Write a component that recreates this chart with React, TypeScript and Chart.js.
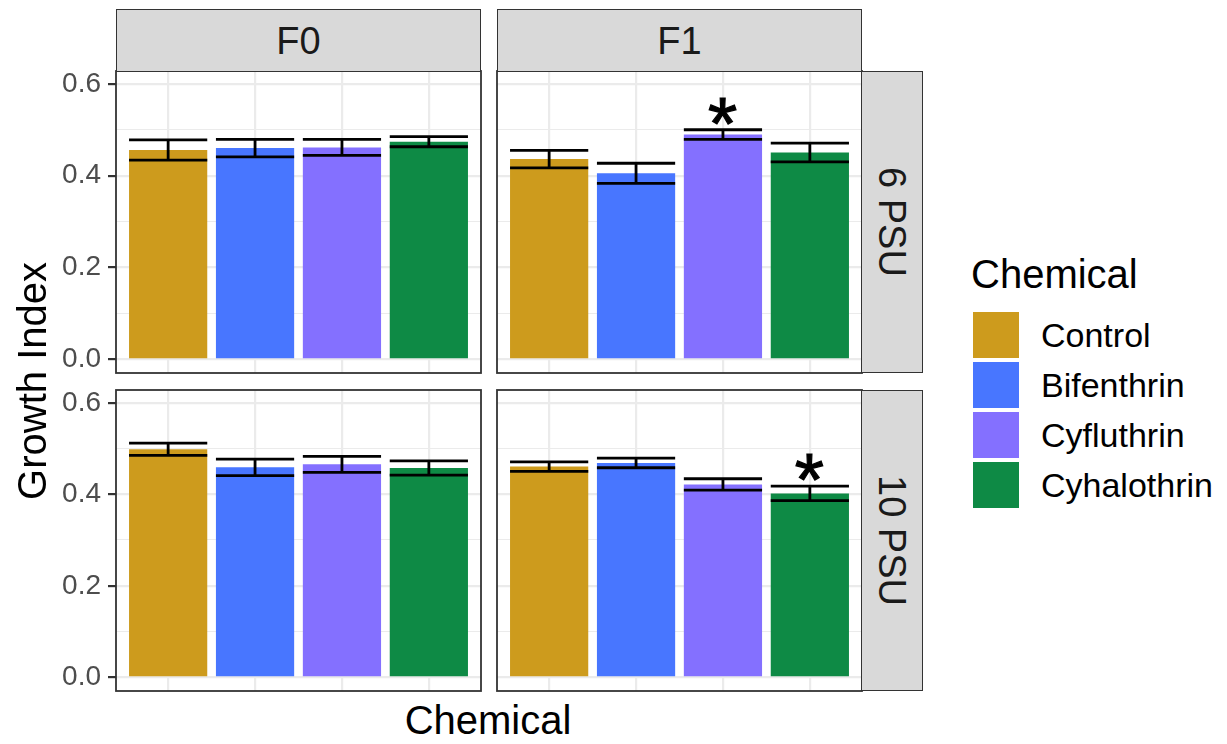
import React, { useEffect, useRef } from 'react';
import { Chart, registerables } from 'chart.js';

Chart.register(...registerables);

// ---------- data ----------
const chemicals = ['Control', 'Bifenthrin', 'Cyfluthrin', 'Cyhalothrin'];
const chemicalPositions = [1, 2, 3, 4];
const chemicalColors = ['#CD9B1D', '#4876FF', '#8470FF', '#0E8A45'];
const generations = ['F0', 'F1'];
const salinities = ['6 PSU', '10 PSU'];
const yTickValues = [0, 0.1, 0.2, 0.3, 0.4, 0.5, 0.6];
const yMajorTicks = [0, 0.2, 0.4, 0.6];

const meanF0_6 = [0.456, 0.460, 0.4615, 0.474];
const seF0_6 = [0.022, 0.019, 0.0175, 0.011];
const sigF0_6 = [false, false, false, false];

const meanF1_6 = [0.436, 0.405, 0.4895, 0.4505];
const seF1_6 = [0.019, 0.022, 0.0105, 0.0205];
const sigF1_6 = [false, false, true, false];

const meanF0_10 = [0.4985, 0.459, 0.4655, 0.4575];
const seF0_10 = [0.0135, 0.018, 0.0175, 0.0155];
const sigF0_10 = [false, false, false, false];

const meanF1_10 = [0.4605, 0.4685, 0.4215, 0.402];
const seF1_10 = [0.0105, 0.0105, 0.0125, 0.016];
const sigF1_10 = [false, false, false, true];

const Y_MIN = -0.03;
const Y_MAX = 0.628;
const STAR_OFFSET = 0.040;

// ---------- style ----------
const FONT = '"Liberation Sans", Arial, Helvetica, sans-serif';
const GRID = '#EBEBEB';
const DARK = '#333333';

type PanelProps = {
  means: number[];
  se: number[];
  sig: boolean[];
  x0: number;
  x1: number;
  y0: number;
  y1: number;
  showY: boolean;
};

const isMajor = (v: number) => yMajorTicks.some((t) => Math.abs(t - v) < 1e-9);

function Panel({ means, se, sig, x0, x1, y0, y1, showY }: PanelProps) {
  const ref = useRef<HTMLCanvasElement>(null);
  const M = 4;
  const cLeft = showY ? 0 : x0 - M;
  const cTop = y0 - M;
  const cW = x1 + M - cLeft;
  const cH = y1 + M - cTop;

  useEffect(() => {
    const canvas = ref.current;
    if (!canvas) return;

    const errorPlugin = {
      id: 'errorbars',
      afterDatasetsDraw(chart: any) {
        const ctx = chart.ctx;
        const xs = chart.scales.x;
        const ys = chart.scales.y;
        const meta = chart.getDatasetMeta(0);
        ctx.save();
        ctx.strokeStyle = '#000000';
        ctx.lineWidth = 2.8;
        ctx.lineCap = 'butt';
        means.forEach((m, i) => {
          const el = meta.data[i];
          const cx = xs.getPixelForValue(chemicalPositions[i]);
          const hw = el.width / 2;
          const yt = ys.getPixelForValue(m + se[i]);
          const yb = ys.getPixelForValue(m - se[i]);
          ctx.beginPath();
          ctx.moveTo(cx - hw, yt);
          ctx.lineTo(cx + hw, yt);
          ctx.moveTo(cx - hw, yb);
          ctx.lineTo(cx + hw, yb);
          ctx.moveTo(cx, yt);
          ctx.lineTo(cx, yb);
          ctx.stroke();
        });
        // significance stars
        ctx.fillStyle = '#000000';
        ctx.font = `100px ${FONT}`;
        const m100 = ctx.measureText('*');
        const inkH100 = m100.actualBoundingBoxAscent + m100.actualBoundingBoxDescent;
        const size = (100 * 27) / (inkH100 || 30);
        ctx.font = `${size}px ${FONT}`;
        ctx.textAlign = 'left';
        ctx.textBaseline = 'alphabetic';
        const mm = ctx.measureText('*');
        sig.forEach((s, i) => {
          if (!s) return;
          const cx = xs.getPixelForValue(chemicalPositions[i]);
          const cy = ys.getPixelForValue(means[i] + se[i] + STAR_OFFSET);
          const x = cx - (mm.actualBoundingBoxRight - mm.actualBoundingBoxLeft) / 2;
          const y = cy + (mm.actualBoundingBoxAscent - mm.actualBoundingBoxDescent) / 2;
          ctx.fillText('*', x, y);
          ctx.lineWidth = 1.2;
          ctx.strokeStyle = '#000000';
          ctx.strokeText('*', x, y);
        });
        ctx.restore();
      },
      afterDraw(chart: any) {
        const { left, top, width, height } = chart.chartArea;
        const ctx = chart.ctx;
        ctx.save();
        ctx.strokeStyle = DARK;
        ctx.lineWidth = 1.8;
        ctx.strokeRect(left, top, width, height);
        ctx.restore();
      },
    };

    const chart = new Chart(canvas, {
      type: 'bar',
      data: {
        datasets: [
          {
            data: means.map((m, i) => ({ x: chemicalPositions[i], y: m })),
            backgroundColor: chemicalColors,
            borderWidth: 0,
            categoryPercentage: 1,
            barPercentage: 0.9,
          } as any,
        ],
      },
      options: {
        animation: false,
        responsive: false,
        maintainAspectRatio: false,
        devicePixelRatio: 1,
        events: [],
        layout: { padding: { left: showY ? 0 : M, right: M, top: M, bottom: M } },
        plugins: {
          legend: { display: false },
          tooltip: { enabled: false },
          title: { display: false },
        },
        scales: {
          x: {
            type: 'linear',
            min: 0.4,
            max: 4.6,
            offset: false,
            afterBuildTicks: (s: any) => {
              s.ticks = chemicalPositions.map((v) => ({ value: v }));
            },
            ticks: { display: false },
            grid: { color: GRID, lineWidth: 2.2, drawTicks: false, offset: false },
            border: { display: false },
            afterFit: (s: any) => {
              s.height = 0;
              s.paddingLeft = 0;
              s.paddingRight = 0;
              s.paddingTop = 0;
              s.paddingBottom = 0;
            },
          } as any,
          y: {
            type: 'linear',
            min: Y_MIN,
            max: Y_MAX,
            afterBuildTicks: (s: any) => {
              s.ticks = yTickValues.map((v) => ({ value: v }));
            },
            ticks: {
              display: showY,
              autoSkip: false,
              padding: 7,
              color: '#4D4D4D',
              font: { family: FONT, size: 28 },
              callback: (v: any) => (isMajor(Number(v)) ? Number(v).toFixed(1) : ''),
            },
            grid: {
              color: GRID,
              lineWidth: (c: any) => (isMajor(c.tick.value) ? 2.2 : 1.1),
              drawTicks: showY,
              tickLength: 8,
              tickWidth: 2.2,
              tickColor: (c: any) => (isMajor(c.tick.value) ? DARK : 'rgba(0,0,0,0)'),
            },
            border: { display: false },
            afterFit: (s: any) => {
              s.width = showY ? x0 : 0;
              s.paddingTop = 0;
              s.paddingBottom = 0;
              s.paddingLeft = 0;
              s.paddingRight = 0;
            },
          } as any,
        },
      },
      plugins: [errorPlugin],
    } as any);

    return () => chart.destroy();
  }, []);

  return (
    <canvas
      ref={ref}
      width={cW}
      height={cH}
      style={{ position: 'absolute', left: cLeft, top: cTop, width: cW, height: cH }}
    />
  );
}

const stripStyle: React.CSSProperties = {
  position: 'absolute',
  boxSizing: 'border-box',
  background: '#D9D9D9',
  border: `1.6px solid ${DARK}`,
  display: 'flex',
  alignItems: 'center',
  justifyContent: 'center',
  color: '#1A1A1A',
  fontFamily: FONT,
  fontSize: 38,
  lineHeight: 1,
};

export default function App() {
  const cols = [
    { x0: 116, x1: 481 },
    { x0: 497, x1: 862 },
  ];
  const rows = [
    { y0: 71, y1: 373 },
    { y0: 390, y1: 691 },
  ];
  const panels = [
    { r: 0, c: 0, means: meanF0_6, se: seF0_6, sig: sigF0_6 },
    { r: 0, c: 1, means: meanF1_6, se: seF1_6, sig: sigF1_6 },
    { r: 1, c: 0, means: meanF0_10, se: seF0_10, sig: sigF0_10 },
    { r: 1, c: 1, means: meanF1_10, se: seF1_10, sig: sigF1_10 },
  ];

  return (
    <div
      style={{
        position: 'absolute',
        left: 0,
        top: 0,
        width: 1227,
        height: 744,
        background: '#FFFFFF',
        overflow: 'hidden',
        fontFamily: FONT,
      }}
    >
      {panels.map((p, i) => (
        <Panel
          key={i}
          means={p.means}
          se={p.se}
          sig={p.sig}
          x0={cols[p.c].x0}
          x1={cols[p.c].x1}
          y0={rows[p.r].y0}
          y1={rows[p.r].y1}
          showY={p.c === 0}
        />
      ))}

      {generations.map((g, i) => (
        <div
          key={g}
          style={{ ...stripStyle, left: cols[i].x0, top: 9, width: cols[i].x1 - cols[i].x0, height: 63 }}
        >
          {g}
        </div>
      ))}

      {salinities.map((s, i) => (
        <div
          key={s}
          style={{
            ...stripStyle,
            left: 861,
            top: rows[i].y0,
            width: 62,
            height: rows[i].y1 - rows[i].y0,
          }}
        >
          <span style={{ writingMode: 'vertical-rl' }}>{s}</span>
        </div>
      ))}

      {/* axis titles */}
      <div
        style={{
          position: 'absolute',
          left: 288,
          width: 400,
          top: 700,
          height: 40,
          lineHeight: '40px',
          textAlign: 'center',
          fontSize: 40,
          color: '#000',
        }}
      >
        Chemical
      </div>
      <div
        style={{
          position: 'absolute',
          left: 12,
          width: 40,
          top: 181,
          height: 400,
          display: 'flex',
          alignItems: 'center',
          justifyContent: 'center',
          fontSize: 40,
          color: '#000',
        }}
      >
        <span style={{ writingMode: 'vertical-rl', transform: 'rotate(180deg)', lineHeight: '40px' }}>
          Growth Index
        </span>
      </div>

      {/* legend */}
      <div
        style={{
          position: 'absolute',
          left: 971,
          top: 254,
          height: 40,
          lineHeight: '40px',
          fontSize: 40,
          color: '#000',
          whiteSpace: 'nowrap',
        }}
      >
        Chemical
      </div>
      {chemicals.map((c, i) => (
        <React.Fragment key={c}>
          <div
            style={{
              position: 'absolute',
              left: 973,
              top: 312 + i * 50,
              width: 46,
              height: 46,
              background: chemicalColors[i],
            }}
          />
          <div
            style={{
              position: 'absolute',
              left: 1041,
              top: 315 + i * 50,
              height: 40,
              lineHeight: '40px',
              fontSize: 34,
              color: '#000',
              whiteSpace: 'nowrap',
            }}
          >
            {c}
          </div>
        </React.Fragment>
      ))}
    </div>
  );
}
